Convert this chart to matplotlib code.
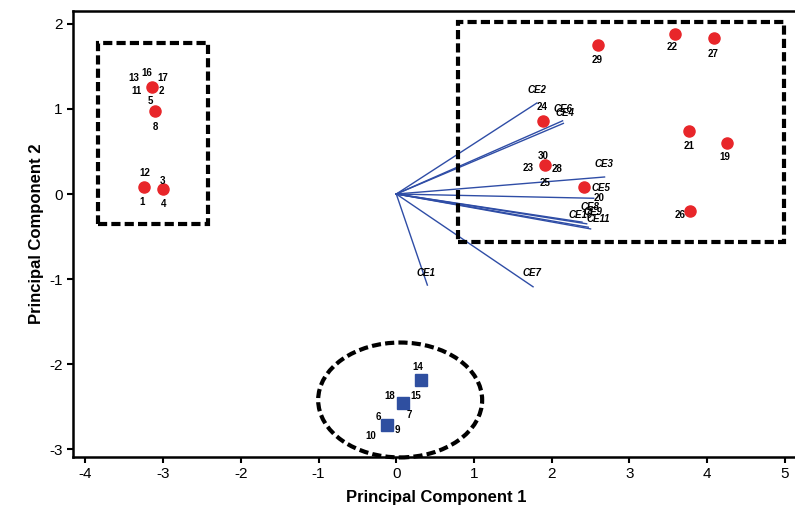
import matplotlib.pyplot as plt
from matplotlib.patches import Rectangle, Ellipse

plt.rcParams['font.family'] = ['Liberation Sans', 'DejaVu Sans']
plt.rcParams['axes.unicode_minus'] = False

# scores of the samples, group 1 (red circles)
red_x = [-3.24, -3.00, -3.14, -3.10, 2.60, 3.58, 4.09, 1.89, 1.92, 2.41, 3.77, 4.26, 3.78]
red_y = [0.08, 0.06, 1.26, 0.97, 1.75, 1.88, 1.83, 0.86, 0.34, 0.08, 0.74, 0.60, -0.20]
red_ids = [["12", "1"], ["3", "4"], ["16", "13", "17", "11", "2"], ["5", "8"],
           ["29"], ["22"], ["27"], ["24"], ["30", "23", "28", "25"], ["20"],
           ["21"], ["19"], ["26"]]

# scores of the samples, group 2 (blue squares)
blue_x = [0.32, 0.09, -0.12]
blue_y = [-2.19, -2.46, -2.71]
blue_ids = [["14"], ["18", "15", "7"], ["6", "9", "10"]]

# loadings (vectors from the origin)
ce_names = ["CE1", "CE2", "CE3", "CE4", "CE5", "CE6", "CE7", "CE8", "CE9", "CE10", "CE11"]
ce_x = [0.40, 1.81, 2.68, 2.15, 2.54, 2.14, 1.76, 2.39, 2.45, 2.47, 2.50]
ce_y = [-1.07, 1.07, 0.20, 0.83, -0.05, 0.86, -1.09, -0.33, -0.35, -0.39, -0.41]

# label offsets in pixels
red_off = [[(0, 14), (-2, -15)], [(-1, 8), (0, -15)],
           [(-5, 14), (-18, 9), (10, 9), (-16, -4), (9, -4)],
           [(-5, 10), (0, -16)], [(-1, -15)], [(-2, -13)], [(-1, -16)],
           [(-1, 14)], [(-2, 9), (-17, -3), (12, -4), (0, -18)], [(15, -11)],
           [(0, -15)], [(-3, -14)], [(-10, -4)]]
blue_off = [[(-3, 13)], [(-14, 7), (12, 7), (6, -12)], [(-9, 8), (10, -5), (-16, -11)]]
ce_off = [(-1, 12), (0, 13), (-1, 13), (2, 10), (7, 10), (0, 12), (-1, 14),
          (8, 15), (6, 12), (-8, 12), (8, 10)]

fig = plt.figure(figsize=(7.95, 5.15), dpi=100)
ax = fig.add_axes([0.0918, 0.1126, 0.915, 0.866])

for name, x, y, off in zip(ce_names, ce_x, ce_y, ce_off):
    ax.plot([0, x], [0, y], color='#2f4da6', lw=1.0, zorder=2)
    ax.annotate(name, (x, y), xytext=off, textcoords='offset pixels',
                ha='center', va='center', fontsize=7, fontweight='bold',
                fontstyle='italic', zorder=5)

ax.plot(red_x, red_y, 'o', color='#e8262a', ms=8, zorder=4)
ax.plot(blue_x, blue_y, 's', color='#2f4fa0', ms=8, zorder=4)

for x, y, ids, offs in zip(red_x + blue_x, red_y + blue_y, red_ids + blue_ids, red_off + blue_off):
    for t, off in zip(ids, offs):
        ax.annotate(t, (x, y), xytext=off, textcoords='offset pixels',
                    ha='center', va='center', fontsize=7, fontweight='bold', zorder=5)

dash = (0, (2.2, 1.0))
ax.add_patch(Rectangle((-3.84, -0.35), 1.42, 2.12, fill=False, ec='black',
                       lw=3, ls=dash, zorder=3))
ax.add_patch(Rectangle((0.80, -0.56), 4.19, 2.58, fill=False, ec='black',
                       lw=3, ls=dash, zorder=3))
ax.add_patch(Ellipse((0.05, -2.42), 2.11, 1.35, fill=False, ec='black',
                     lw=3, ls=dash, zorder=3, clip_on=False))

ax.set_xlim(-4.16, 5.20)
ax.set_ylim(-3.09, 2.15)
ax.set_xticks(range(-4, 6))
ax.set_yticks(range(-3, 3))
ax.tick_params(direction='out', length=4, width=1.5, labelsize=11)
for s in ax.spines.values():
    s.set_linewidth(1.8)
ax.spines['right'].set_visible(False)
ax.set_xlabel("Principal Component 1", fontsize=12, fontweight='bold', labelpad=6)
ax.set_ylabel("Principal Component 2", fontsize=12, fontweight='bold', labelpad=4)

fig.savefig("out.png", dpi=100)
